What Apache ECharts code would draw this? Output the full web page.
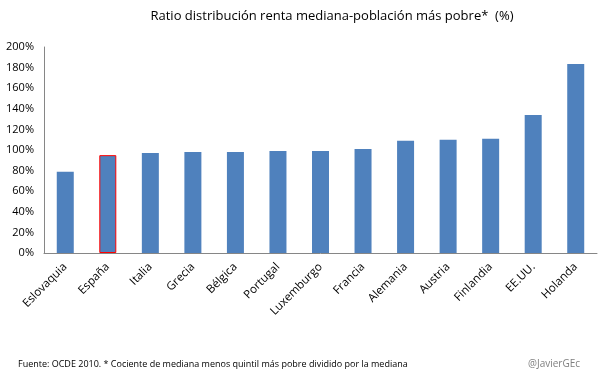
<!DOCTYPE html>
<html><head><meta charset="utf-8">
<script src="https://cdn.jsdelivr.net/npm/echarts@6/dist/echarts.min.js"></script>
<style>html,body{margin:0;padding:0;background:#fff}#c{width:605px;height:378px}</style>
</head><body><div id="c"></div>
<script>
const categories = ["Eslovaquia","España","Italia","Grecia","Bélgica","Portugal","Luxemburgo","Francia","Alemania","Austria","Finlandia","EE.UU.","Holanda"];
const values = [79, 95, 97, 98, 98, 99, 99, 101, 109, 110, 111, 134, 183.5];
const highlighted = "España";
const yTicks = {min: 0, max: 200, interval: 20};
const titleText = "Ratio distribución renta mediana-población más pobre*  (%)";
const sourceText = "Fuente: OCDE 2010. * Cociente de mediana menos quintil más pobre dividido por la mediana";
const authorText = "@JavierGEc";

const font = "'Open Sans', 'Liberation Sans', sans-serif";
const chart = echarts.init(document.getElementById('c'), null, {renderer: 'canvas'});
chart.setOption({
  animation: false,
  title: {text: titleText, left: 327, top: 5, textAlign: 'center',
    textStyle: {fontFamily: font, fontSize: 13, fontWeight: 'normal', color: '#000'}},
  grid: {left: 44, right: 8, top: 47, bottom: 125, containLabel: false},
  xAxis: {type: 'category', data: categories,
    axisLine: {lineStyle: {color: '#868686', width: 1}},
    axisTick: {show: false},
    axisLabel: {rotate: 45, interval: 0, margin: 12, fontFamily: font, fontSize: 11.5, color: '#000'}},
  yAxis: {type: 'value', min: yTicks.min, max: yTicks.max, interval: yTicks.interval,
    axisLine: {show: true, lineStyle: {color: '#868686', width: 1}},
    axisTick: {show: false},
    splitLine: {show: false},
    axisLabel: {formatter: '{value}%', margin: 10, fontFamily: font, fontSize: 11, color: '#000'}},
  series: [{type: 'bar', barWidth: 17,
    data: values.map((v, i) => categories[i] === highlighted
      ? {value: v, itemStyle: {color: '#4F81BD', borderColor: '#FF0000', borderWidth: 1}}
      : {value: v}),
    itemStyle: {color: '#4F81BD'}}],
  graphic: [
    {type: 'text', left: 18, top: 360, style: {text: sourceText, fontFamily: font, fontSize: 9, fill: '#000'}},
    {type: 'text', left: 528, top: 359, style: {text: authorText, fontFamily: font, fontSize: 10, fill: '#7f7f7f'}}
  ]
});
</script></body></html>
